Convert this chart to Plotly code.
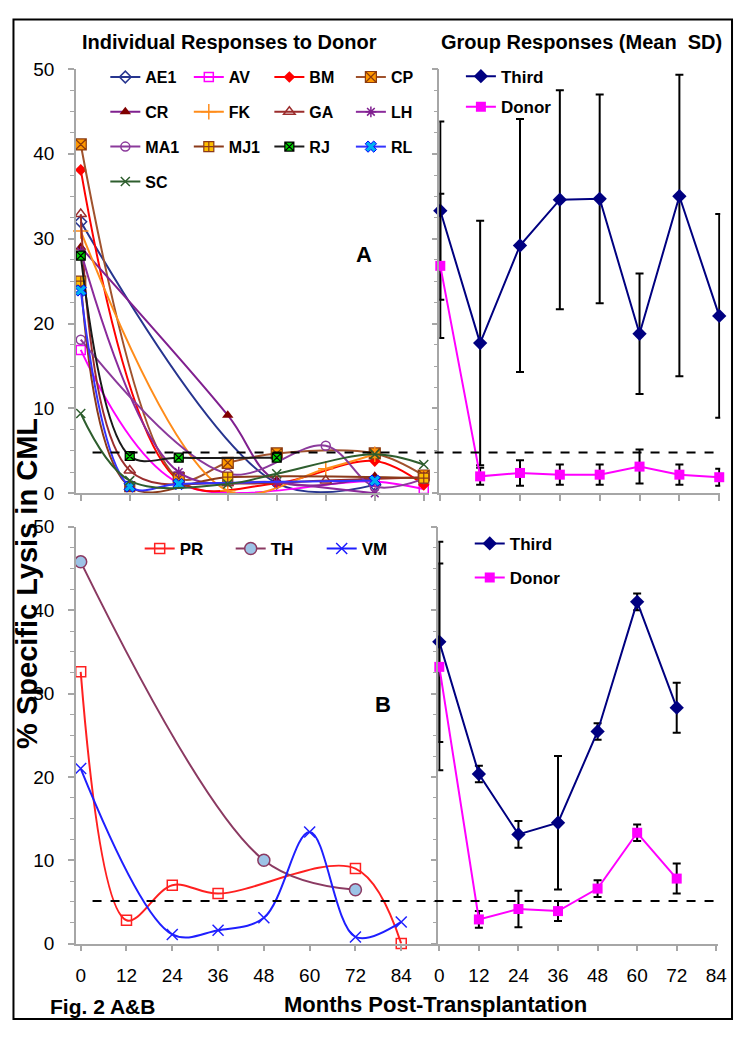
import plotly.graph_objects as go

# ---------------- data ----------------
MONTHS = [0, 12, 24, 36, 48, 60, 72, 84]
X_TICKS = [0, 12, 24, 36, 48, 60, 72, 84]
Y_TICKS = [0, 10, 20, 30, 40, 50]

# Panel A - individual responses to donor (None = not measured)
PATIENTS_A = ["AE1", "AV", "BM", "CP", "CR", "FK", "GA", "LH", "MA1", "MJ1", "RJ", "RL", "SC"]
AE1 = [32.0, None, None, None, 1.2, None, 1.0, None]
AV = [16.9, None, 1.2, None, None, None, 1.4, 0.5]
BM = [38.1, None, 1.5, None, 1.2, None, 3.8, 1.0]
CP = [41.1, None, 1.8, 3.6, 4.7, None, 4.7, 2.1]
CR = [29.0, None, None, 9.2, 1.5, None, 2.0, None]
FK = [30.9, None, None, 0.3, None, 2.9, 4.6, None]
GA = [32.9, 2.7, None, 1.2, None, 1.5, None, 1.9]
LH = [28.5, None, 2.5, None, 1.3, None, 0.0, None]
MA1 = [18.1, None, None, 2.3, None, 5.6, 0.8, 1.7]
MJ1 = [25.0, 0.8, None, 1.9, None, None, None, 1.8]
RJ = [28.0, 4.4, 4.2, None, 4.2, None, None, None]
RL = [23.9, 0.8, 1.1, None, None, None, 1.5, None]
SC = [9.4, 1.5, None, 1.1, 2.3, None, 4.6, 3.4]
VALUES_A = [AE1, AV, BM, CP, CR, FK, GA, LH, MA1, MJ1, RJ, RL, SC]

# Panel B - individual responses
PATIENTS_B = ["PR", "TH", "VM"]
PR = [32.6, 2.8, 7.0, 6.0, None, None, 9.0, 0.0]
TH = [45.8, None, None, None, 10.0, None, 6.45, None]
VM = [21.0, None, 1.1, 1.6, 3.1, 13.4, 0.8, 2.6]
VALUES_B = [PR, TH, VM]

# Group responses (mean, SD)
GROUP_MONTHS_A = [0, 12, 24, 36, 48, 60, 72, 84]
THIRD_A = [33.3, 17.7, 29.2, 34.6, 34.7, 18.8, 35.0, 20.9]
THIRD_A_SD_UP = [10.5, 14.4, 14.9, 12.9, 12.3, 7.1, 14.3, 12.0]
THIRD_A_SD_DOWN = [10.5, 14.4, 14.9, 12.9, 12.3, 7.1, 21.2, 12.0]
DONOR_A = [26.8, 2.0, 2.4, 2.2, 2.2, 3.15, 2.2, 1.9]
DONOR_A_SD = [8.5, 1.0, 1.5, 1.2, 1.2, 2.0, 1.2, 1.0]

GROUP_MONTHS_B = [0, 12, 24, 36, 48, 60, 72]
THIRD_B = [36.2, 20.35, 13.1, 14.5, 25.45, 41.0, 28.3]
THIRD_B_SD = [12.0, 1.0, 1.6, 8.0, 1.0, 1.0, 3.0]
DONOR_B = [33.2, 2.9, 4.15, 3.9, 6.6, 13.3, 7.8]
DONOR_B_SD = [12.4, 1.0, 2.2, 1.2, 1.0, 1.0, 1.8]

THRESHOLD_A = 4.8
THRESHOLD_B = 5.1

# ---------------- layout helpers ----------------
# page body keeps its default 8px margin, so the figure is 16px smaller than the window
OFF = 8
W, H = 750 - 2 * OFF, 1039 - 2 * OFF
FONT = "Liberation Sans, Arial, sans-serif"


def px(x):
    return (x - OFF) / W


def py(y):
    return 1 - (y - OFF) / H


STYLE_A = {
    "AE1": dict(line="#27358F", marker=dict(symbol="diamond-open", color="#27358F", size=9, line=dict(width=1.5))),
    "AV": dict(line="#FF00FF", marker=dict(symbol="square-open", color="#FF00FF", size=9, line=dict(width=1.5))),
    "BM": dict(line="#FF0000", marker=dict(symbol="diamond", color="#FF0000", size=9)),
    "CP": dict(line="#A0522D", marker=dict(symbol="square-x", color="#FF9900", size=11, line=dict(color="#8B3A0F", width=1.2))),
    "CR": dict(line="#80208F", marker=dict(symbol="triangle-up", color="#800000", size=10)),
    "FK": dict(line="#FF8C1A", marker=dict(symbol="cross-thin-open", color="#FF8C1A", size=11, line=dict(width=1.5))),
    "GA": dict(line="#9B2D2D", marker=dict(symbol="triangle-up-open", color="#9B2D2D", size=10, line=dict(width=1.5))),
    "LH": dict(line="#8B2A9B", marker=dict(symbol="asterisk-open", color="#7F1F8F", size=9, line=dict(width=1.5))),
    "MA1": dict(line="#8B3A9B", marker=dict(symbol="circle-open", color="#8B3A9B", size=9, line=dict(width=1.5))),
    "MJ1": dict(line="#8B3A1A", marker=dict(symbol="square-cross", color="#FFC000", size=10, line=dict(color="#8B3A1A", width=1.2))),
    "RJ": dict(line="#1A1A1A", marker=dict(symbol="square-x", color="#00CC00", size=9, line=dict(color="#000000", width=1.2))),
    "RL": dict(line="#3333FF", marker=dict(symbol="x", color="#00B0F0", size=10, line=dict(color="#0000FF", width=1))),
    "SC": dict(line="#2E5E2E", marker=dict(symbol="x-thin-open", color="#2E5E2E", size=9, line=dict(width=1.5))),
}
STYLE_B = {
    "PR": dict(line="#FF2020", marker=dict(symbol="square-open", color="#FF2020", size=10, line=dict(width=1.5))),
    "TH": dict(line="#8B3A62", marker=dict(symbol="circle", color="#9DC3E6", size=12, line=dict(color="#8B3A62", width=1.5))),
    "VM": dict(line="#1F1FFF", marker=dict(symbol="x-thin-open", color="#1F1FFF", size=11, line=dict(width=1.5))),
}
THIRD_COLOR = "#000080"
DONOR_COLOR = "#FF00FF"

fig = go.Figure()


def present(xs, ys):
    pts = [(x, y) for x, y in zip(xs, ys) if y is not None]
    return [p[0] for p in pts], [p[1] for p in pts]


# panel A individual
for i, (name, vals) in enumerate(zip(PATIENTS_A, VALUES_A)):
    xs, ys = present(MONTHS, vals)
    st = STYLE_A[name]
    leg = "legend" if i % 4 == 0 else f"legend{i % 4 + 1}"
    fig.add_trace(go.Scatter(
        x=xs, y=ys, name=name, mode="lines+markers",
        line=dict(color=st["line"], width=2, shape="spline", smoothing=1),
        marker=st["marker"], xaxis="x", yaxis="y",
        legend=leg, legendgroup=name, cliponaxis=False,
    ))

# panel B individual
for name, vals in zip(PATIENTS_B, VALUES_B):
    xs, ys = present(MONTHS, vals)
    st = STYLE_B[name]
    fig.add_trace(go.Scatter(
        x=xs, y=ys, name=name, mode="lines+markers",
        line=dict(color=st["line"], width=2, shape="spline", smoothing=1),
        marker=st["marker"], xaxis="x3", yaxis="y3",
        legend="legend7", cliponaxis=False,
    ))

# group panels
err = dict(type="data", color="black", thickness=2, width=4, visible=True)
fig.add_trace(go.Scatter(
    x=GROUP_MONTHS_A, y=THIRD_A, name="Third", mode="lines+markers",
    line=dict(color=THIRD_COLOR, width=2),
    marker=dict(symbol="diamond", color=THIRD_COLOR, size=11),
    error_y=dict(err, array=THIRD_A_SD_UP, arrayminus=THIRD_A_SD_DOWN, symmetric=False),
    xaxis="x2", yaxis="y2", legend="legend5", legendgroup="tA", cliponaxis=False,
))
fig.add_trace(go.Scatter(
    x=GROUP_MONTHS_A, y=DONOR_A, name="Donor", mode="lines+markers",
    line=dict(color=DONOR_COLOR, width=2),
    marker=dict(symbol="square", color=DONOR_COLOR, size=10),
    error_y=dict(err, array=DONOR_A_SD),
    xaxis="x2", yaxis="y2", legend="legend5", legendgroup="dA", cliponaxis=False,
))
fig.add_trace(go.Scatter(
    x=GROUP_MONTHS_B, y=THIRD_B, name="Third", mode="lines+markers",
    line=dict(color=THIRD_COLOR, width=2),
    marker=dict(symbol="diamond", color=THIRD_COLOR, size=11),
    error_y=dict(err, array=THIRD_B_SD),
    xaxis="x4", yaxis="y4", legend="legend6", legendgroup="tB", cliponaxis=False,
))
fig.add_trace(go.Scatter(
    x=GROUP_MONTHS_B, y=DONOR_B, name="Donor", mode="lines+markers",
    line=dict(color=DONOR_COLOR, width=2),
    marker=dict(symbol="square", color=DONOR_COLOR, size=10),
    error_y=dict(err, array=DONOR_B_SD),
    xaxis="x4", yaxis="y4", legend="legend6", legendgroup="dB", cliponaxis=False,
))

AXIS_GRAY = "#A6A6A6"
tickfont = dict(family=FONT, size=19, color="black")


def xax(domain, rng, labels):
    return dict(domain=domain, range=rng, tickvals=X_TICKS, ticks="outside", ticklen=6,
                tickcolor=AXIS_GRAY, tickwidth=1.5, showline=True, linecolor=AXIS_GRAY,
                linewidth=1.5, showgrid=False, zeroline=False, showticklabels=labels,
                tickfont=tickfont, ticklabelstandoff=8)


def yax(domain, anchor, labels):
    return dict(domain=domain, range=[0, 50], tickvals=Y_TICKS, ticks="outside", ticklen=6,
                tickcolor=AXIS_GRAY, tickwidth=1.5, showline=True, linecolor=AXIS_GRAY,
                linewidth=1.5, showgrid=False, zeroline=False, showticklabels=labels,
                tickfont=tickfont, anchor=anchor, ticklabelstandoff=10,
                minor=dict(dtick=2.5, ticks="outside", ticklen=4, tickcolor=AXIS_GRAY, tickwidth=1))


yA = [py(493.3), py(60)]
yB = [py(953), py(527.5)]

leg_font = dict(family=FONT, size=16, color="black", weight="bold")
legend_common = dict(bgcolor="rgba(0,0,0,0)", font=leg_font, itemwidth=30, xanchor="left",
                     yanchor="top", tracegroupgap=11)

fig.update_layout(
    width=W, height=H, margin=dict(l=0, r=0, t=0, b=0),
    paper_bgcolor="white", plot_bgcolor="white",
    font=dict(family=FONT, color="black"),
    xaxis=dict(xax([px(73), px(433)], [-1.2, 85.4], False), anchor="y"),
    yaxis=yax(yA, "x", True),
    xaxis2=dict(xax([px(443), px(729)], [-0.3, 84.3], False), anchor="y2"),
    yaxis2=yax(yA, "x2", False),
    xaxis3=dict(xax([px(73), px(440)], [-1.27, 93.2], True), anchor="y3"),
    yaxis3=yax(yB, "x3", True),
    xaxis4=dict(xax([px(442), px(727)], [-0.3, 84.6], True), anchor="y4"),
    yaxis4=yax(yB, "x4", False),
    legend=dict(legend_common, x=px(103), y=py(51)),
    legend2=dict(legend_common, x=px(188), y=py(51)),
    legend3=dict(legend_common, x=px(270), y=py(51)),
    legend4=dict(legend_common, x=px(353), y=py(51)),
    legend5=dict(legend_common, x=px(465), y=py(49.5), tracegroupgap=5.5, font=dict(leg_font, size=17)),
    legend6=dict(legend_common, x=px(474), y=py(526.5), tracegroupgap=9, font=dict(leg_font, size=17)),
    legend7=dict(bgcolor="rgba(0,0,0,0)", font=dict(leg_font, size=17), itemwidth=30,
                 orientation="h", entrywidth=46, x=px(138), y=py(550), xanchor="left", yanchor="middle"),
    showlegend=True,
)

# threshold dashed lines
fig.add_shape(type="line", xref="paper", yref="y", x0=px(90), x1=px(728), y0=THRESHOLD_A, y1=THRESHOLD_A,
              line=dict(color="black", width=2, dash="dash"))
fig.add_shape(type="line", xref="paper", yref="y3", x0=px(90), x1=px(728), y0=THRESHOLD_B, y1=THRESHOLD_B,
              line=dict(color="black", width=2, dash="dash"))
# figure frame
fig.add_shape(type="rect", xref="paper", yref="paper", x0=px(9.5), x1=px(741), y0=py(1030), y1=py(9.5),
              line=dict(color="black", width=2), layer="below")

bold = dict(family=FONT, color="black", weight="bold")
ann = [
    dict(text="Individual Responses to Donor", x=px(229), y=py(32), font=dict(bold, size=20)),
    dict(text="Group Responses (Mean  SD)", x=px(588), y=py(32), font=dict(bold, size=20)),
    dict(text="A", x=px(366), y=py(249), font=dict(bold, size=22)),
    dict(text="B", x=px(386), y=py(709), font=dict(bold, size=22)),
    dict(text="Fig. 2 A&B", x=px(100), y=py(1017), font=dict(bold, size=21)),
    dict(text="Months Post-Transplantation", x=px(439), y=py(1015), font=dict(bold, size=22)),
    dict(text="% Specific Lysis in CML", x=px(23), y=py(585), textangle=-90, font=dict(bold, size=29)),
]
for a in ann:
    fig.add_annotation(xref="paper", yref="paper", showarrow=False, xanchor="center", yanchor="middle", **a)

fig.write_html("out.html", config={"displayModeBar": False})
